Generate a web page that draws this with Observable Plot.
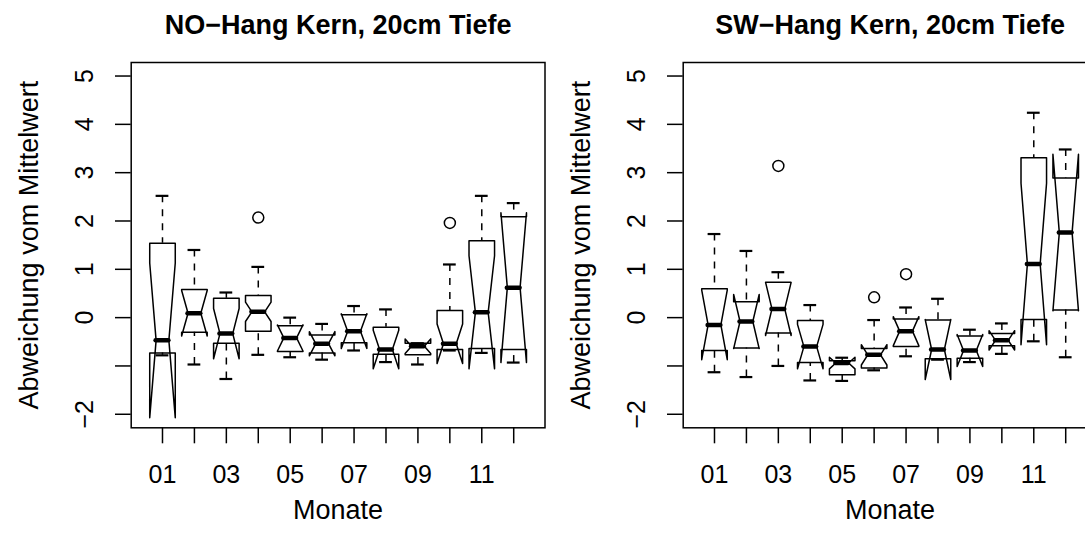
<!DOCTYPE html>
<html><head><meta charset="utf-8">
<script src="https://cdn.jsdelivr.net/npm/d3@7"></script>
<script src="https://cdn.jsdelivr.net/npm/@observablehq/plot@0.6"></script>
<style>
html,body{margin:0;padding:0;background:#fff;overflow:hidden;width:1085px;height:548px}
#wrap{display:flex;width:1104px}
#wrap svg{flex:0 0 auto;max-width:none}
</style></head><body><div id="wrap"></div>
<script>
const months = ["01","02","03","04","05","06","07","08","09","10","11","12"];
const monthLabels = ["01","","03","","05","","07","","09","","11",""];
const yTicks = [-2,-1,0,1,2,3,4,5];
const yTickLabels = ["−2","","0","1","2","3","4","5"];
const titles = ["NO−Hang Kern, 20cm Tiefe", "SW−Hang Kern, 20cm Tiefe"];
const xTitle = "Monate";
const yTitle = "Abweichung vom Mittelwert";

// NO-Hang
const noWhiskerLo = [-0.78,-0.97,-1.27,-0.77,-0.82,-0.87,-0.68,-0.92,-0.97,-0.68,-0.73,-0.93];
const noHingeLo   = [-0.73,-0.30,-0.53,-0.28,-0.70,-0.73,-0.52,-0.76,-0.77,-0.66,-0.64,-0.66];
const noMedian    = [-0.47, 0.09,-0.33, 0.12,-0.42,-0.54,-0.28,-0.66,-0.59,-0.54, 0.11, 0.62];
const noHingeHi   = [ 1.54, 0.58, 0.40, 0.46,-0.17,-0.36, 0.06,-0.20,-0.53, 0.15, 1.59, 2.09];
const noWhiskerHi = [ 2.52, 1.40, 0.52, 1.05, 0.00,-0.13, 0.24, 0.17,-0.53, 1.10, 2.52, 2.37];
const noNotch     = [ 1.60, 0.47, 0.52, 0.20, 0.27, 0.25, 0.36, 0.40, 0.15, 0.41, 1.17, 1.55];
const noOutMonth  = [4, 10];
const noOutValue  = [2.07, 1.96];

// SW-Hang
const swWhiskerLo = [-1.13,-1.23,-1.00,-1.30,-1.31,-1.09,-0.80,-0.87,-0.92,-0.75,-0.49,-0.82];
const swHingeLo   = [-0.68,-0.63,-0.32,-0.93,-1.18,-1.04,-0.60,-0.85,-0.84,-0.58,-0.04, 0.16];
const swMedian    = [-0.15,-0.08, 0.18,-0.60,-0.94,-0.77,-0.28,-0.66,-0.68,-0.47, 1.11, 1.76];
const swHingeHi   = [ 0.60, 0.33, 0.73,-0.06,-0.89,-0.64,-0.03,-0.05,-0.38,-0.33, 3.31, 2.89];
const swWhiskerHi = [ 1.73, 1.38, 0.94, 0.26,-0.83,-0.05, 0.21, 0.39,-0.25,-0.12, 4.24, 3.48];
const swNotch     = [ 0.72, 0.56, 0.55, 0.46, 0.12, 0.21, 0.30, 0.62, 0.33, 0.20, 1.67, 1.62];
const swOutMonth  = [3, 6, 7];
const swOutValue  = [3.14, 0.42, 0.90];

const W = 0.4, NW = 0.2, SW = 0.2;
const FONT = "'Liberation Sans', Arial, Helvetica, sans-serif";

function panel(title, wLo, hLo, med, hHi, wHi, notch, outM, outV) {
  const boxes = months.map((m, i) => ({
    x: i + 1, wLo: wLo[i], hLo: hLo[i], med: med[i], hHi: hHi[i], wHi: wHi[i],
    nLo: med[i] - notch[i], nHi: med[i] + notch[i]
  }));
  const poly = [];
  for (const b of boxes) {
    const pts = [
      [b.x - W, b.hLo], [b.x + W, b.hLo], [b.x + W, b.nLo], [b.x + NW, b.med],
      [b.x + W, b.nHi], [b.x + W, b.hHi], [b.x - W, b.hHi], [b.x - W, b.nHi],
      [b.x - NW, b.med], [b.x - W, b.nLo], [b.x - W, b.hLo]
    ];
    for (const [x, y] of pts) poly.push({box: b.x, x, y});
  }
  const outliers = outM.map((m, i) => ({x: m, y: outV[i]}));
  const ticksX = months.map((m, i) => i + 1);
  return Plot.plot({
    width: 552, height: 548,
    marginLeft: 130.7, marginRight: 7.5, marginTop: 62, marginBottom: 120.7,
    style: {fontFamily: FONT, fontSize: "25px", background: "white", color: "black", overflow: "visible"},
    x: {domain: [0.02, 12.98]},
    y: {domain: [-2.28, 5.28]},
    marks: [
      Plot.frame({stroke: "black", strokeWidth: 1.5}),
      Plot.axisX(ticksX, {tickSize: 16, tickFormat: () => "", strokeWidth: 1.5, label: null}),
      Plot.axisY(yTicks, {tickSize: 15.7, tickFormat: () => "", strokeWidth: 1.5, label: null}),
      Plot.text(ticksX, {x: d => d, text: (d, i) => monthLabels[i], frameAnchor: "bottom", dy: 47.4, lineAnchor: "middle", textAnchor: "middle", fontSize: 25, fill: "black"}),
      Plot.text(yTicks, {y: d => d, text: (d, i) => yTickLabels[i], frameAnchor: "left", rotate: -90, dx: -46.5, lineAnchor: "middle", textAnchor: "middle", fontSize: 25, fill: "black"}),
      Plot.line(poly, {x: "x", y: "y", z: "box", stroke: "black", strokeWidth: 1.5, strokeLinejoin: "round"}),
      Plot.ruleX(boxes, {x: "x", y1: "wHi", y2: "hHi", stroke: "black", strokeWidth: 1.5, strokeDasharray: "7,7"}),
      Plot.ruleX(boxes, {x: "x", y1: "wLo", y2: "hLo", stroke: "black", strokeWidth: 1.5, strokeDasharray: "7,7"}),
      Plot.ruleY(boxes, {y: "wHi", x1: d => d.x - SW, x2: d => d.x + SW, stroke: "black", strokeWidth: 2.2}),
      Plot.ruleY(boxes, {y: "wLo", x1: d => d.x - SW, x2: d => d.x + SW, stroke: "black", strokeWidth: 2.2}),
      Plot.ruleY(boxes, {y: "med", x1: d => d.x - NW, x2: d => d.x + NW, stroke: "black", strokeWidth: 4.5, strokeLinecap: "round"}),
      Plot.dot(outliers, {x: "x", y: "y", r: 5.5, stroke: "black", strokeWidth: 1.5, fill: "none"}),
      Plot.text([title], {text: d => d, frameAnchor: "top", dy: -37.3, lineAnchor: "middle", textAnchor: "middle", fontSize: 27, fontWeight: "bold", fill: "black"}),
      Plot.text([xTitle], {text: d => d, frameAnchor: "bottom", dy: 83, lineAnchor: "middle", textAnchor: "middle", fontSize: 27, fill: "black"}),
      Plot.text([yTitle], {text: d => d, frameAnchor: "left", rotate: -90, dx: -101.7, lineAnchor: "middle", textAnchor: "middle", fontSize: 27, fill: "black"})
    ]
  });
}

const wrap = document.getElementById("wrap");
wrap.appendChild(panel(titles[0], noWhiskerLo, noHingeLo, noMedian, noHingeHi, noWhiskerHi, noNotch, noOutMonth, noOutValue));
wrap.appendChild(panel(titles[1], swWhiskerLo, swHingeLo, swMedian, swHingeHi, swWhiskerHi, swNotch, swOutMonth, swOutValue));
</script></body></html>
